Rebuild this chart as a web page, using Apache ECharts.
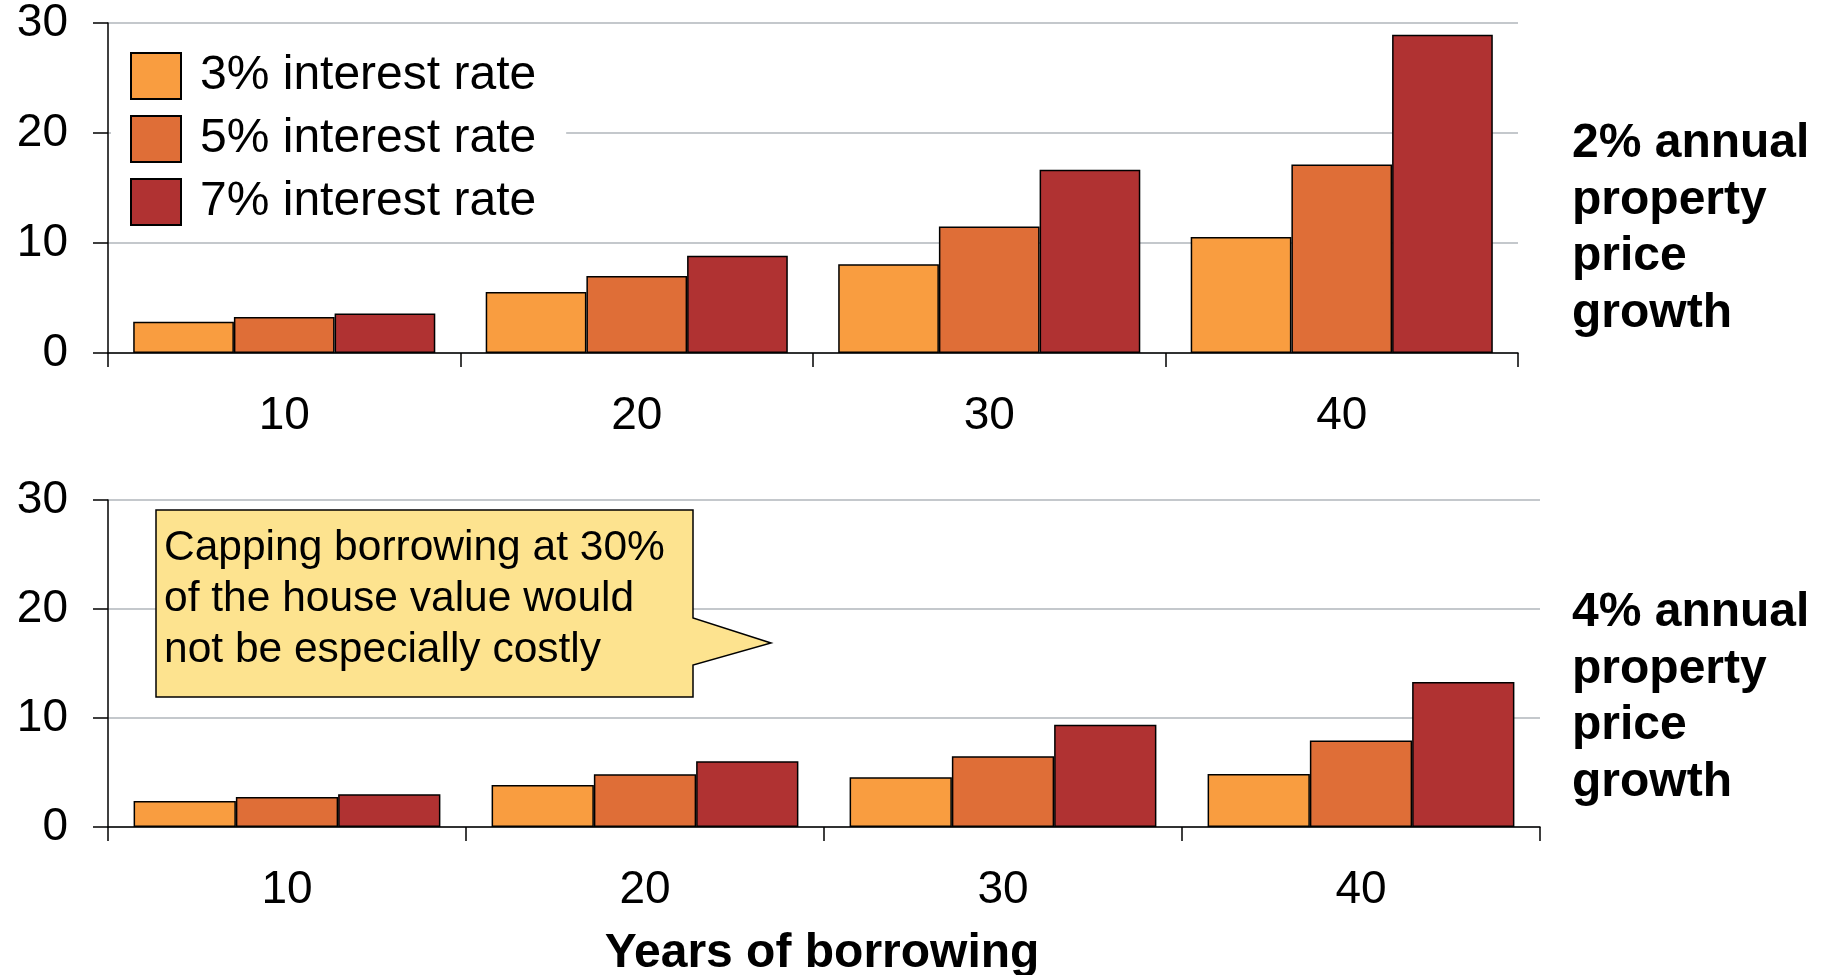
<!DOCTYPE html>
<html>
<head>
<meta charset="utf-8">
<script src="https://cdn.jsdelivr.net/npm/echarts@6/dist/echarts.min.js"></script>
<style>
html,body{margin:0;padding:0;background:#fff;}
#chart{width:1827px;height:975px;}
</style>
</head>
<body>
<div id="chart"></div>
<script>
const categories = ['10', '20', '30', '40'];
const seriesNames = ['3% interest rate', '5% interest rate', '7% interest rate'];
// 2% annual property price growth
const top3 = [2.85, 5.55, 8.07, 10.55];
const top5 = [3.28, 7.0, 11.5, 17.14];
const top7 = [3.58, 8.83, 16.65, 28.94];
// 4% annual property price growth
const bot3 = [2.39, 3.86, 4.56, 4.87];
const bot5 = [2.75, 4.84, 6.49, 7.93];
const bot7 = [3.0, 6.03, 9.37, 13.31];
const yTicks = [0, 10, 20, 30];
const panelLabels = ['2% annual\nproperty\nprice\ngrowth', '4% annual\nproperty\nprice\ngrowth'];
const xTitle = 'Years of borrowing';
const calloutText = 'Capping borrowing at 30%\nof the house value would\nnot be especially costly';

const colors = ['#F99D40', '#DF6E37', '#B03232'];
const FONT = '"Liberation Sans", Arial, sans-serif';
const FS = 46;

const chart = echarts.init(document.getElementById('chart'), null, {renderer: 'canvas'});

function yAxis(gi) {
  return {
    type: 'value', gridIndex: gi, min: yTicks[0], max: yTicks[yTicks.length - 1], interval: 10,
    axisLine: {show: true, lineStyle: {color: '#000', width: 1.5}},
    axisTick: {show: true, length: 15, lineStyle: {color: '#000', width: 1.5}},
    axisLabel: {color: '#000', fontSize: FS, fontFamily: FONT, margin: 40},
    splitLine: {show: true, lineStyle: {color: '#C4C8CC', width: 2}}
  };
}
function xAxis(gi) {
  return {
    type: 'category', gridIndex: gi, data: categories,
    axisLine: {show: true, lineStyle: {color: '#000', width: 1.5}},
    axisTick: {show: true, length: 14, lineStyle: {color: '#000', width: 1.5}},
    axisLabel: {color: '#000', fontSize: FS, fontFamily: FONT, margin: 40},
    splitLine: {show: false}
  };
}
function bar(name, data, idx, gi) {
  return {
    name: name, type: 'bar', xAxisIndex: gi, yAxisIndex: gi, data: data,
    barGap: '0%', barCategoryGap: '14.3%',
    itemStyle: {color: colors[idx], borderColor: '#000', borderWidth: 1.5},
    emphasis: {disabled: true}, animation: false
  };
}

const option = {
  animation: false,
  textStyle: {fontFamily: FONT},
  grid: [
    {left: 108, right: 309, top: 22, height: 331},
    {left: 108, right: 287, top: 500, height: 327}
  ],
  xAxis: [xAxis(0), xAxis(1)],
  yAxis: [yAxis(0), yAxis(1)],
  legend: {
    data: seriesNames.map(n => ({name: n, icon: 'rect'})), orient: 'vertical', left: 111, top: 40,
    backgroundColor: '#fff', padding: [12, 30, 12, 19],
    itemWidth: 50, itemHeight: 46, itemGap: 15,
    textStyle: {color: '#000', fontSize: 48, fontFamily: FONT, padding: [0, 0, 0, 14]},
    selectedMode: false, z: 5
  },
  series: [
    bar(seriesNames[0], top3, 0, 0), bar(seriesNames[1], top5, 1, 0), bar(seriesNames[2], top7, 2, 0),
    bar(seriesNames[0], bot3, 0, 1), bar(seriesNames[1], bot5, 1, 1), bar(seriesNames[2], bot7, 2, 1)
  ],
  graphic: [
    {type: 'text', left: 1572, top: 116, z: 10,
     style: {text: panelLabels[0], fill: '#000', font: 'bold 48px ' + FONT, lineHeight: 56.5}},
    {type: 'text', left: 1572, top: 585, z: 10,
     style: {text: panelLabels[1], fill: '#000', font: 'bold 48px ' + FONT, lineHeight: 56.5}},
    {type: 'text', x: 822, y: 954, z: 10,
     style: {text: xTitle, fill: '#000', font: 'bold 48px ' + FONT, textAlign: 'center', textVerticalAlign: 'middle'}},
    {type: 'polygon', z: 8,
     shape: {points: [[156, 510], [693, 510], [693, 618], [771, 643], [693, 665], [693, 697], [156, 697]]},
     style: {fill: '#FDE38F', stroke: '#000', lineWidth: 1.5}},
    {type: 'text', x: 164, y: 523, z: 9,
     style: {text: calloutText, fill: '#000', font: '42.5px ' + FONT, lineHeight: 51}}
  ]
};
chart.setOption(option);
</script>
</body>
</html>
